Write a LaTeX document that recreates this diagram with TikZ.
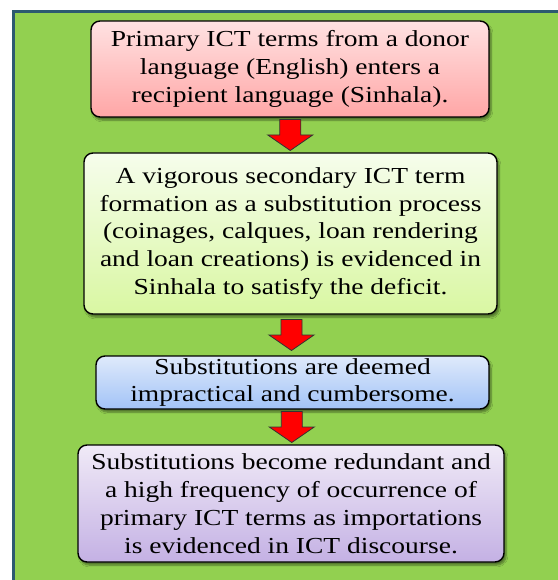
\documentclass[tikz,border=0pt]{standalone}
\usepackage{fontspec}
\setmainfont[FakeStretch=1.2]{Liberation Serif}
\usepackage{tikz}
\usetikzlibrary{calc, shadows.blur}

\definecolor{bggreen}{HTML}{92D050}
\definecolor{frameblue}{HTML}{2C5A70}
\definecolor{pinktop}{HTML}{FFE2E2}
\definecolor{pinkbot}{HTML}{FFA6A6}
\definecolor{limetop}{HTML}{F6FDEC}
\definecolor{limebot}{HTML}{D9F7A2}
\definecolor{bluetop}{HTML}{DFEAFB}
\definecolor{bluebot}{HTML}{A2C3F7}
\definecolor{violtop}{HTML}{F0EAF7}
\definecolor{violbot}{HTML}{C4B1E4}

\tikzset{
  box/.style={draw=black, line width=1.4bp, rounded corners=9bp, inner sep=0pt,
    align=center, font=\fontsize{23}{28}\selectfont,
    blur shadow={shadow xshift=2bp, shadow yshift=-3bp, shadow blur steps=6, shadow opacity=45}},
  redarr/.style={fill=red, draw=black!80, line width=0.8bp}
}

\newcommand{\redarrow}[2]{%
  \coordinate (m) at ($(#1.south)!0.5!(#2.north)$);
  \draw[redarr] ($(m)+(-10.5,-15.5)$) -- ($(m)+(10.5,-15.5)$) -- ($(m)+(10.5,0)$)
    -- ($(m)+(22.5,0)$) -- ($(m)+(0,15.5)$) -- ($(m)+(-22.5,0)$) -- ($(m)+(-10.5,0)$) -- cycle;}

\begin{document}
\begin{tikzpicture}[x=1bp, y=-1bp]
\useasboundingbox (0,0) rectangle (558,580);
% background
\fill[bggreen] (13,12) rectangle (558,580);
\draw[frameblue, line width=3bp] (13,580) -- (13,12) -- (558,12);

% steps
\node[box, top color=pinktop, bottom color=pinkbot, minimum width=398bp, minimum height=96bp]
  (donor) at (290,69) {Primary ICT terms from a donor\\ language (English) enters a\\ recipient language (Sinhala).};
\node[box, top color=limetop, bottom color=limebot, minimum width=413bp, minimum height=161bp]
  (subst) at (290.5,233.5) {A vigorous secondary ICT term\\ formation as a substitution process\\ (coinages, calques, loan rendering\\ and loan creations) is evidenced in\\ Sinhala to satisfy the deficit.};
\node[box, top color=bluetop, bottom color=bluebot, minimum width=393bp, minimum height=53bp]
  (deemed) at (292.5,382.5) {Substitutions are deemed\\ impractical and cumbersome.};
\node[box, top color=violtop, bottom color=violbot, minimum width=426bp, minimum height=117bp]
  (redund) at (291,503.5) {Substitutions become redundant and\\ a high frequency of occurrence of\\ primary ICT terms as importations\\ is evidenced in ICT discourse.};

% arrows
\foreach \a/\b in {donor/subst, subst/deemed, deemed/redund}
  \redarrow{\a}{\b};
\end{tikzpicture}
\end{document}
